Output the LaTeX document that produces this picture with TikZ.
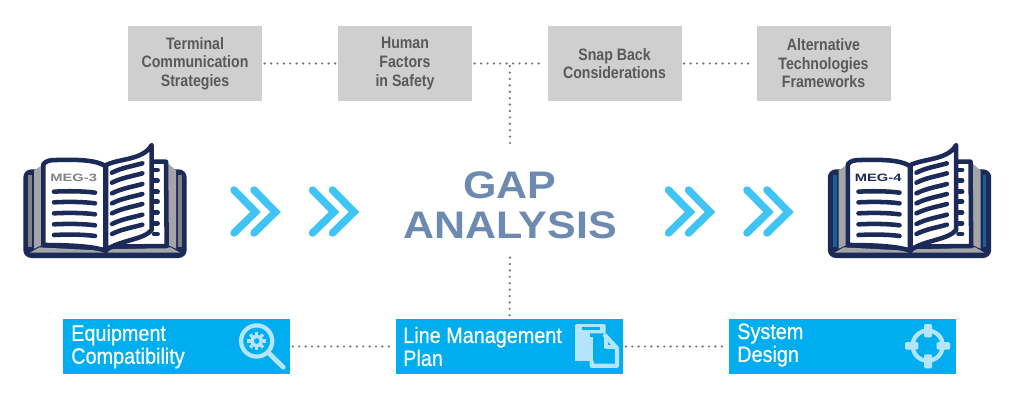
\documentclass[tikz,border=0pt]{standalone}
\usepackage{fontspec}
\setmainfont{Liberation Sans}
\newfontfamily\condfont[FakeStretch=0.855]{Liberation Sans Bold}
\newfontfamily\botfont[FakeStretch=0.89,FakeBold=0.5]{Liberation Sans}
\newfontfamily\widefont[FakeStretch=1.38]{Liberation Sans Bold}
\newfontfamily\gapfont[FakeStretch=1.12]{Liberation Sans Bold}
\usetikzlibrary{calc}
\definecolor{navy}{HTML}{1B2A57}
\definecolor{topgray}{HTML}{CFCFCF}
\definecolor{toptext}{HTML}{58595B}
\definecolor{botblue}{HTML}{00AEEF}
\definecolor{iconlight}{HTML}{B5E5FA}
\definecolor{chev}{HTML}{40C4F5}
\definecolor{gaptext}{HTML}{6D8AB0}
\definecolor{dotcol}{HTML}{6D6E71}
\definecolor{midgray}{HTML}{A3A5A8}
\definecolor{stripgray}{HTML}{7F8184}
\definecolor{stripblue}{HTML}{1F5F99}
\tikzset{
  topbox/.style={fill=topgray,minimum width=100.5pt,minimum height=56.25pt,inner sep=0pt,outer sep=0pt,
    align=center,text=toptext,font=\condfont\fontsize{12.4}{13.9}\selectfont},
  botbox/.style={fill=botblue,minimum width=170.5pt,minimum height=41.25pt,inner sep=0pt,outer sep=0pt},
  bottext/.style={anchor=west,inner sep=0pt,text=white,align=left,font=\botfont\fontsize{16.7}{17.2}\selectfont},
  dotline/.style={draw=dotcol,line width=1.8pt,line cap=round,dash pattern=on 0pt off 4.8pt,shorten >=2pt,shorten <=2pt},
  chevron/.style={draw=chev,line width=5.6pt,line cap=round,line join=miter},
  bookline/.style={draw=navy,line width=3.4pt,line cap=round,line join=round},
  iconstroke/.style={draw=iconlight,line width=3.2pt,line cap=round,line join=round},
  gaplabel/.style={align=center,text=gaptext,font=\gapfont\fontsize{28.8}{30}\selectfont,inner sep=0pt}
}
\newcommand{\bookicon}[5]{%
 \begin{scope}[shift={(#1,130)},x=.25pt,y=-.25pt]
  % cover
  \fill[navy,rounded corners=6pt] (40,118) rectangle (530,384);
  \fill[#2] (55,135) rectangle (66,350);
  \fill[#2] (504,135) rectangle (515,350);
  \fill[midgray] (72,122) -- (96,105) -- (96,345) -- (72,356) -- cycle;
  \fill[midgray] (498,122) -- (474,100) -- (474,345) -- (498,356) -- cycle;
  \fill[midgray] (60,368) -- (88,352) -- (275,362) -- (283,368) -- cycle;
  \fill[midgray] (510,368) -- (482,352) -- (300,358) -- (293,368) -- cycle;
  % back page
  \path[fill=white,bookline] (425,95) -- (468,95) -- (470,348) -- (300,350) -- cycle;
  % left page
  \path[fill=white,bookline] (100,103) .. controls (108,92) and (120,90) .. (140,90)
     .. controls (200,88) and (260,90) .. (286,108) -- (286,362)
     .. controls (250,348) and (170,345) .. (100,345) -- cycle;
  % turned page
  \path[fill=white,bookline] (288,105) .. controls (330,85) and (400,90) .. (425,45)
     -- (425,300) .. controls (400,330) and (330,330) .. (288,360) -- cycle;
  \node[inner sep=0pt,text=#4,font=\widefont\fontsize{8}{8}\selectfont] (#5) at (191,142) {#3};
  % left page text lines
  \foreach \yy in {185,217,250,283,315}
    \draw[bookline] (132,\yy) .. controls (170,\yy-2) and (220,\yy-2) .. (255,\yy+3);
  % right page text lines
  \foreach \yy in {128,158,190,220,250,282,312}
    \draw[bookline] (306,\yy) .. controls (335,\yy-15) and (370,\yy-20) .. (397,\yy-28);
  % ticks on back page
  \foreach \yy in {120,152,185,215,247,280,312}
    \draw[bookline] (432,\yy) -- (443,\yy);
 \end{scope}}
\newcommand{\chevpair}[1]{%
 \begin{scope}[shift={(#1,0)}]
  \draw[chevron] (234,190) -- (255.5,212) -- (234,233);
  \draw[chevron] (254,190) -- (275.5,212) -- (254,233);
 \end{scope}}
\begin{document}
\begin{tikzpicture}[x=.75pt,y=-.75pt]
\useasboundingbox[fill=white] (0,0) rectangle (1011,400);
% top boxes
\node[topbox] (t1) at (195,63.5) {Terminal\\Communication\\Strategies};
\node[topbox] (t2) at (405,63.5) {Human\\Factors\\in Safety};
\node[topbox] (t3) at (614.5,63.5) {Snap Back\\Considerations};
\node[topbox] (t4) at (823.5,63.5) {Alternative\\Technologies\\Frameworks};
\draw[dotline] (t1) -- (t2);
\draw[dotline] (t2) -- coordinate[pos=.5] (tj) (t3);
\draw[dotline] (t3) -- (t4);
% centre
\node[gaplabel] (gap) at (510,205.5) {GAP\\ANALYSIS};
\coordinate (gt) at (510,150);
\coordinate (gb) at (510,255);
% bottom boxes
\node[botbox] (b1) at (176.5,346.5) {};
\node[botbox] (b2) at (509.5,346.5) {};
\node[botbox] (b3) at (842.5,346.5) {};
\node[bottext] (b1t) at (71,346.5) {Equipment\\Compatibility};
\node[bottext] (b2t) at (403,346.5) {Line Management\\Plan};
\node[bottext] (b3t) at (737,345) {System\\Design};
\draw[dotline] (tj) -- (gt);
\draw[dotline] (gb) -- (b2.north);
\draw[dotline] (b1) -- (b2);
\draw[dotline] (b2) -- (b3);
% books
\bookicon{10}{stripgray}{MEG-3}{stripgray}{m3}
\bookicon{814.5}{stripblue}{MEG-4}{navy}{m4}
% chevrons
\chevpair{0}
\chevpair{78.5}
\chevpair{434.5}
\chevpair{513}
% magnifier icon
\begin{scope}[shift={(200,310)},x=.25pt,y=-.25pt]
  \draw[iconstroke] (170,93) circle (11.7pt);
  \draw[iconlight,line width=3.6pt,line cap=round] (207,130) -- (250,172);
  \foreach \a in {0,45,...,315}
    \draw[iconlight,line width=2.4pt] (170,93) ++(\a:3.5pt) -- ++(\a:3.4pt);
  \draw[iconlight,line width=2.6pt] (170,93) circle (3.6pt);
\end{scope}
% document icon
\begin{scope}[shift={(560,310)},x=.25pt,y=-.25pt]
  \fill[iconlight,rounded corners=1pt] (45,42) rectangle (137,152);
  \fill[botblue] (65,51) rectangle (120,60);
  \fill[botblue] (90,70) -- (142,70) -- (180,113) -- (180,174) -- (90,174) -- cycle;
  \fill[iconlight] (45,80) rectangle (100,152);
  \draw[iconstroke] (95,155) -- (95,167) -- (171,167) -- (171,115) -- (135,76);
  \draw[iconstroke] (137,80) -- (137,110) -- (168,110);
\end{scope}
% target icon
\begin{scope}[shift={(890,310)},x=.25pt,y=-.25pt]
  \draw[iconstroke] (113,107) circle (11.3pt);
  \fill[iconlight,rounded corners=1pt] (102,42) rectangle (126,82);
  \fill[iconlight,rounded corners=1pt] (102,133) rectangle (126,175);
  \fill[iconlight,rounded corners=1pt] (45,96) rectangle (85,119);
  \fill[iconlight,rounded corners=1pt] (140,96) rectangle (180,119);
\end{scope}
\end{tikzpicture}
\end{document}
